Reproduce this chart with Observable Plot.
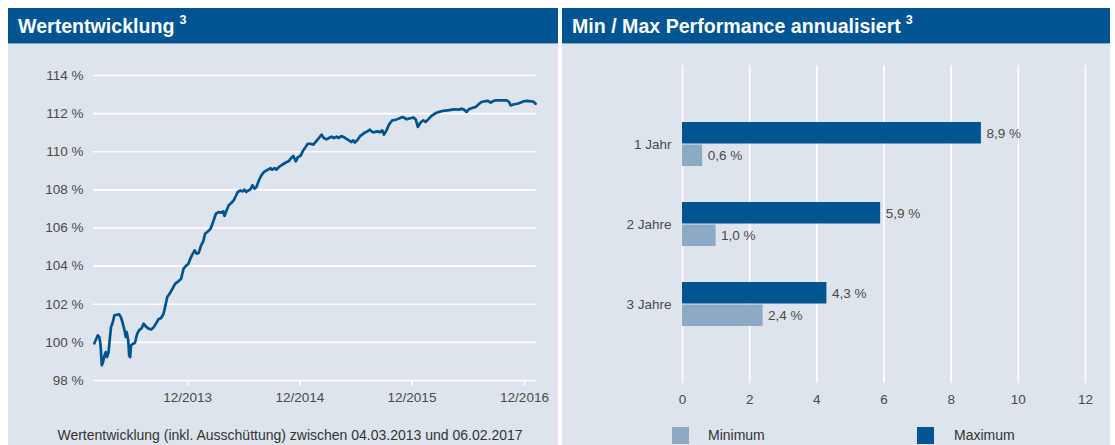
<!DOCTYPE html>
<html><head><meta charset="utf-8">
<script src="https://cdn.jsdelivr.net/npm/d3@7"></script>
<script src="https://cdn.jsdelivr.net/npm/@observablehq/plot@0.6"></script>
<style>
html,body{margin:0;padding:0;background:#fff;}
body{width:1115px;height:445px;overflow:hidden;position:relative;font-family:"Liberation Sans",Arial,sans-serif;}
.panel{position:absolute;top:8px;height:437px;background:#dde4ec;}
.hdr{position:absolute;left:0;right:0;top:0;height:35px;background:#005592;color:#fff;font-weight:bold;font-size:19.6px;line-height:37px;padding-left:10px;border-bottom:1px solid #8aa6c4;white-space:nowrap;}
.hdr .sup{font-size:12.5px;position:relative;top:-9px;margin-left:5px;}
.abs{position:absolute;}
.caption{position:absolute;left:0;top:427px;width:580px;text-align:center;font-size:14px;color:#333;white-space:nowrap;}
.leg{position:absolute;top:427px;font-size:14px;color:#333;line-height:17px;}
.sw{position:absolute;width:17px;height:17px;top:427px;}
</style>
</head><body>
<div class="panel" style="left:8px;width:550px;"><div class="hdr">Wertentwicklung<span class="sup">3</span></div></div>
<div class="panel" style="left:562px;width:548px;"><div class="hdr">Min / Max Performance annualisiert<span class="sup">3</span></div></div>
<div id="left" class="abs" style="left:8px;top:45px;"></div>
<div id="right" class="abs" style="left:562px;top:45px;"></div>
<div class="caption" id="cap">Wertentwicklung (inkl. Ausschüttung) zwischen 04.03.2013 und 06.02.2017</div>
<div class="sw" style="left:672px;background:#8ea9c3;"></div>
<div class="leg" style="left:708px;">Minimum</div>
<div class="sw" style="left:917px;background:#005592;"></div>
<div class="leg" style="left:954px;">Maximum</div>
<script>
// ---- Left chart data: Wertentwicklung (index in %)
const lineDates = ["2013-03-04","2013-03-15","2013-03-20","2013-03-24","2013-03-28","2013-04-01","2013-04-06","2013-04-10","2013-04-14","2013-04-19","2013-04-23","2013-04-27","2013-05-03","2013-05-08","2013-05-16","2013-05-23","2013-05-29","2013-06-03","2013-06-10","2013-06-14","2013-06-17","2013-06-22","2013-06-25","2013-06-28","2013-07-01","2013-07-08","2013-07-14","2013-07-21","2013-07-27","2013-08-05","2013-08-11","2013-08-18","2013-08-27","2013-09-05","2013-09-13","2013-09-21","2013-09-28","2013-10-07","2013-10-15","2013-10-21","2013-10-27","2013-11-04","2013-11-13","2013-11-22","2013-12-02","2013-12-11","2013-12-19","2013-12-26","2014-01-04","2014-01-10","2014-01-15","2014-01-24","2014-01-30","2014-02-06","2014-02-14","2014-02-21","2014-02-27","2014-03-08","2014-03-17","2014-03-25","2014-04-03","2014-04-13","2014-04-20","2014-04-27","2014-05-01","2014-05-08","2014-05-15","2014-05-23","2014-05-31","2014-06-07","2014-06-13","2014-06-22","2014-06-30","2014-07-05","2014-07-11","2014-07-18","2014-07-25","2014-07-31","2014-08-07","2014-08-13","2014-08-21","2014-08-29","2014-09-06","2014-09-15","2014-09-22","2014-09-28","2014-10-03","2014-10-11","2014-10-17","2014-10-25","2014-11-02","2014-11-10","2014-11-19","2014-11-26","2014-12-04","2014-12-11","2014-12-19","2014-12-26","2015-01-04","2015-01-12","2015-01-20","2015-01-27","2015-02-05","2015-02-14","2015-02-21","2015-03-04","2015-03-13","2015-03-20","2015-03-29","2015-04-06","2015-04-14","2015-04-22","2015-05-01","2015-05-08","2015-05-16","2015-05-24","2015-06-02","2015-06-10","2015-06-18","2015-06-24","2015-06-29","2015-07-07","2015-07-16","2015-07-23","2015-07-31","2015-08-09","2015-08-17","2015-08-25","2015-09-01","2015-09-10","2015-09-19","2015-09-26","2015-10-02","2015-10-10","2015-10-18","2015-10-29","2015-11-09","2015-11-20","2015-12-01","2015-12-08","2015-12-15","2015-12-22","2015-12-30","2016-01-05","2016-01-13","2016-01-20","2016-01-29","2016-02-07","2016-02-14","2016-02-25","2016-03-07","2016-03-18","2016-03-29","2016-04-09","2016-04-19","2016-04-30","2016-05-11","2016-05-22","2016-06-02","2016-06-10","2016-06-18","2016-06-27","2016-07-04","2016-07-15","2016-07-26","2016-08-04","2016-08-14","2016-08-24","2016-09-04","2016-09-13","2016-09-22","2016-10-03","2016-10-13","2016-10-24","2016-11-04","2016-11-12","2016-11-17","2016-11-28","2016-12-09","2016-12-20","2016-12-30","2017-01-10","2017-01-21","2017-01-30","2017-02-06"];
const lineValues = [99.95,100.37,100.28,99.84,98.80,98.97,99.32,99.49,99.23,99.49,100.19,100.80,101.07,101.42,101.45,101.47,101.33,101.07,100.63,100.28,100.54,100.10,99.32,99.23,99.84,99.93,99.98,100.45,100.63,100.75,100.98,100.84,100.72,100.68,100.80,101.01,101.21,101.28,101.51,101.94,102.38,102.56,102.82,103.08,103.20,103.34,103.87,104.00,104.13,104.39,104.56,104.83,104.65,104.69,105.09,105.30,105.70,105.82,105.96,106.31,106.75,106.84,106.80,106.87,106.63,106.93,107.19,107.31,107.45,107.68,107.89,107.97,107.92,108.01,107.89,107.97,108.03,108.24,108.06,108.15,108.50,108.76,108.93,109.02,109.08,109.14,109.06,109.14,109.06,109.20,109.29,109.37,109.46,109.50,109.67,109.78,109.50,109.72,109.80,110.07,110.25,110.42,110.42,110.37,110.51,110.72,110.90,110.72,110.65,110.72,110.79,110.72,110.79,110.72,110.82,110.77,110.68,110.60,110.51,110.60,110.48,110.60,110.82,110.90,111.00,111.07,111.16,111.03,111.03,111.07,111.03,111.12,110.90,111.12,111.42,111.65,111.68,111.74,111.82,111.77,111.70,111.74,111.77,111.80,111.70,111.30,111.53,111.65,111.56,111.74,111.91,112.03,112.09,112.14,112.16,112.18,112.21,112.23,112.21,112.26,112.21,112.09,112.23,112.30,112.35,112.48,112.61,112.65,112.67,112.58,112.67,112.70,112.69,112.70,112.70,112.61,112.43,112.49,112.52,112.58,112.65,112.67,112.65,112.63,112.52];
const yTicks = [98,100,102,104,106,108,110,112,114];
const xTickDates = ["2014-01-01","2015-01-01","2016-01-01","2017-01-01"];
const xTickLabels = ["12/2013","12/2014","12/2015","12/2016"];

// ---- Right chart data: Min / Max Performance annualisiert
const periods = ["1 Jahr","2 Jahre","3 Jahre"];
const maxValues = [8.9,5.9,4.3];
const minValues = [0.6,1.0,2.4];
const xTicksRight = [0,2,4,6,8,10,12];

const font = '"Liberation Sans", Arial, sans-serif';
const fmtPct = v => v.toFixed(1).replace(".", ",") + " %";

const lineData = lineDates.map((d,i) => ({date: new Date(d), value: lineValues[i]}));
const tickDates = xTickDates.map(d => new Date(d));

const left = Plot.plot({
  width: 550, height: 375,
  marginLeft: 85, marginRight: 22, marginTop: 30, marginBottom: 40,
  style: {background: "transparent", fontSize: "13.5px", fontFamily: font, color: "#4a4a4a"},
  x: {type: "utc", domain: [new Date("2013-03-01"), new Date("2017-02-09")], label: null},
  y: {domain: [98,114], label: null},
  marks: [
    Plot.gridY(yTicks, {stroke: "#fff", strokeOpacity: 1, strokeWidth: 1.6}),
    Plot.axisY(yTicks, {tickSize: 0, tickPadding: 10, tickFormat: d => d + " %", fill: "#4a4a4a", label: null}),
    Plot.axisX(tickDates, {tickSize: 6, tickPadding: 6, stroke: "#fff", strokeWidth: 1.6, fill: "#4a4a4a",
      tickFormat: (d,i) => xTickLabels[i], label: null}),
    Plot.line(lineData, {x: "date", y: "value", stroke: "#00558f", strokeWidth: 2.7, strokeLinejoin: "round"})
  ]
});
document.getElementById("left").append(left);

const barData = periods.map((p,i) => ({period: p, max: maxValues[i], min: minValues[i]}));

const right = Plot.plot({
  width: 548, height: 375,
  marginLeft: 120, marginRight: 25, marginTop: 20, marginBottom: 37,
  style: {background: "transparent", fontSize: "13.5px", fontFamily: font, color: "#4a4a4a"},
  x: {domain: [0,12], label: null},
  y: {domain: periods, paddingInner: 0.444, paddingOuter: 0.685, label: null},
  marks: [
    Plot.gridX(xTicksRight, {stroke: "#fff", strokeOpacity: 1, strokeWidth: 1.6}),
    Plot.axisX(xTicksRight, {tickSize: 0, tickPadding: 11, fill: "#4a4a4a", label: null}),
    Plot.axisY({tickSize: 0, tickPadding: 11, fill: "#4a4a4a", label: null}),
    Plot.barX(barData, {x: "max", y: "period", fill: "#005592", insetBottom: 22.5}),
    Plot.barX(barData, {x: "min", y: "period", fill: "#8ea9c3", insetTop: 22.5}),
    Plot.text(barData, {x: "max", y: "period", text: d => fmtPct(d.max), textAnchor: "start", dx: 5, dy: -11, fill: "#4a4a4a"}),
    Plot.text(barData, {x: "min", y: "period", text: d => fmtPct(d.min), textAnchor: "start", dx: 5, dy: 11, fill: "#4a4a4a"})
  ]
});
document.getElementById("right").append(right);
</script>
</body></html>
